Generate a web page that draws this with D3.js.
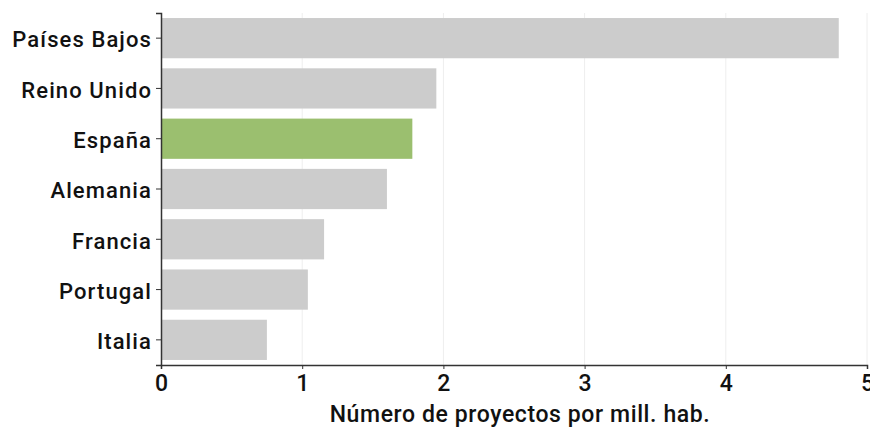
<!DOCTYPE html>
<html><head><meta charset="utf-8">
<script src="https://cdn.jsdelivr.net/npm/d3@7"></script>
<style>body{margin:0;background:#fff}svg{display:block}</style>
</head><body>
<svg id="c" width="870" height="428"></svg>
<script>
const categories = ["Países Bajos","Reino Unido","España","Alemania","Francia","Portugal","Italia"];
const values = [4.8, 1.95, 1.78, 1.6, 1.155, 1.04, 0.75];
const highlight = "España";
const xTicks = [0,1,2,3,4,5];
const xTitle = "Número de proyectos por mill. hab.";

const svg = d3.select("#c");
const x = d3.scaleLinear().domain([0,5]).range([161,867]);
const y = d3.scaleBand().domain(categories).range([13,365]).paddingInner(0.2).paddingOuter(0.1);
const font = "Roboto, 'Noto Sans', sans-serif";

svg.append("g").selectAll("line").data(xTicks.slice(1)).join("line")
  .attr("x1",d=>x(d)).attr("x2",d=>x(d)).attr("y1",13).attr("y2",365)
  .attr("stroke","#eeeeee").attr("stroke-width",1);

svg.append("g").selectAll("rect").data(categories).join("rect")
  .attr("x",x(0)).attr("y",d=>y(d)).attr("height",y.bandwidth())
  .attr("width",(d,i)=>x(values[i])-x(0))
  .attr("fill",d=>d===highlight?"#9bbf6f":"#cccccc");

const xa = svg.append("g").attr("transform","translate(0,365)")
  .call(d3.axisBottom(x).tickValues(xTicks).tickSize(4).tickPadding(6).tickFormat(d3.format("d")));
xa.select(".domain").attr("stroke","#333").attr("stroke-width",1.5);
xa.selectAll(".tick line").attr("stroke","#333");
xa.selectAll("text").attr("font-family",font).attr("font-size",23).attr("font-weight",500).attr("fill","#111");

const ya = svg.append("g").attr("transform","translate(161,0)")
  .call(d3.axisLeft(y).tickSize(5).tickPadding(4));
ya.select(".domain").attr("stroke","#333").attr("stroke-width",1.5);
ya.selectAll(".tick line").attr("stroke","#333");
ya.selectAll("text").attr("font-family",font).attr("font-size",22).attr("font-weight",500)
  .attr("letter-spacing",1.1).attr("dy","0.42em").attr("fill","#111");

svg.append("text").attr("x",(x(0)+x(5))/2+6).attr("y",422).attr("text-anchor","middle")
  .attr("font-family",font).attr("font-size",23).attr("font-weight",500).attr("letter-spacing",0.6)
  .attr("fill","#111").text(xTitle);
</script>
</body></html>
